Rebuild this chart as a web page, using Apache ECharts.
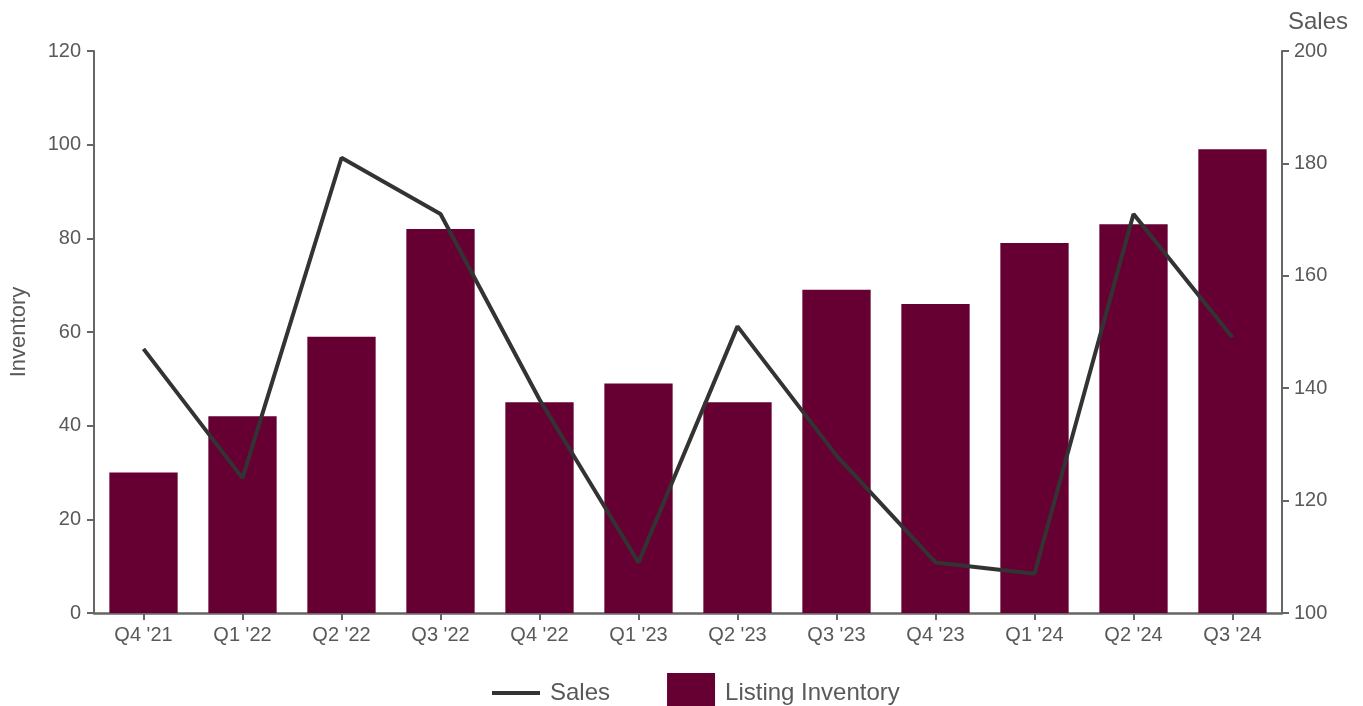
<!DOCTYPE html>
<html>
<head>
<meta charset="utf-8">
<script src="https://cdn.jsdelivr.net/npm/echarts@6/dist/echarts.min.js"></script>
<style>
html,body{margin:0;padding:0;background:#fff;}
#main{width:1363px;height:706px;}
</style>
</head>
<body>
<div id="main"></div>
<script>
var categories = ["Q4 '21","Q1 '22","Q2 '22","Q3 '22","Q4 '22","Q1 '23","Q2 '23","Q3 '23","Q4 '23","Q1 '24","Q2 '24","Q3 '24"];
var inventory = [30, 42, 59, 82, 45, 49, 45, 69, 66, 79, 83, 99];
var sales = [147, 124, 181, 171, 138, 109, 151, 128, 109, 107, 171, 149];

var FONT = "'Liberation Sans', Arial, sans-serif";
var TXT = '#595959';
var AX = '#666666';

var chart = echarts.init(document.getElementById('main'), null, {renderer: 'canvas'});
chart.setOption({
  animation: false,
  backgroundColor: '#ffffff',
  textStyle: {fontFamily: FONT, color: TXT},
  grid: {left: 93, right: 81, top: 51, bottom: 93, containLabel: false},
  legend: {
    top: 668,
    left: 487,
    itemWidth: 48,
    itemHeight: 40,
    itemGap: 57,
    textStyle: {fontFamily: FONT, fontSize: 24, color: TXT, padding: [0,0,0,5]},
    data: [
      {name: 'Sales', icon: 'path://M0,0 L48,0 L48,4 L0,4 Z', itemStyle: {color: '#333333'}},
      {name: 'Listing Inventory', icon: 'rect'}
    ]
  },
  xAxis: {
    type: 'category',
    data: categories,
    axisLine: {show: true, lineStyle: {color: AX, width: 2.5}},
    axisTick: {show: true, alignWithLabel: true, length: 7, lineStyle: {color: AX, width: 2}},
    axisLabel: {fontFamily: FONT, fontSize: 20, color: TXT, margin: 12}
  },
  yAxis: [
    {
      type: 'value', min: 0, max: 120, interval: 20, position: 'left',
      name: 'Inventory', nameLocation: 'middle', nameGap: 64, nameRotate: 90,
      nameTextStyle: {fontFamily: FONT, fontSize: 22, color: TXT},
      axisLine: {show: true, lineStyle: {color: AX, width: 2}},
      axisTick: {show: true, length: 7, lineStyle: {color: AX, width: 2}},
      axisLabel: {fontFamily: FONT, fontSize: 20, color: TXT, margin: 13},
      splitLine: {show: false}
    },
    {
      type: 'value', min: 100, max: 200, interval: 20, position: 'right',
      name: 'Sales', nameLocation: 'end', nameGap: 17,
      nameTextStyle: {fontFamily: FONT, fontSize: 24, color: TXT, align: 'left', padding: [0,0,0,6]},
      axisLine: {show: true, lineStyle: {color: AX, width: 2}},
      axisTick: {show: true, length: 7, lineStyle: {color: AX, width: 2}},
      axisLabel: {fontFamily: FONT, fontSize: 20, color: TXT, margin: 12},
      splitLine: {show: false}
    }
  ],
  series: [
    {
      name: 'Listing Inventory',
      type: 'bar',
      yAxisIndex: 0,
      data: inventory,
      barCategoryGap: '31%',
      itemStyle: {color: '#660033'},
      z: 1
    },
    {
      name: 'Sales',
      type: 'line',
      yAxisIndex: 1,
      data: sales,
      symbol: 'none',
      lineStyle: {color: '#333333', width: 4},
      itemStyle: {color: '#333333'},
      z: 3
    }
  ]
});
</script>
</body>
</html>
